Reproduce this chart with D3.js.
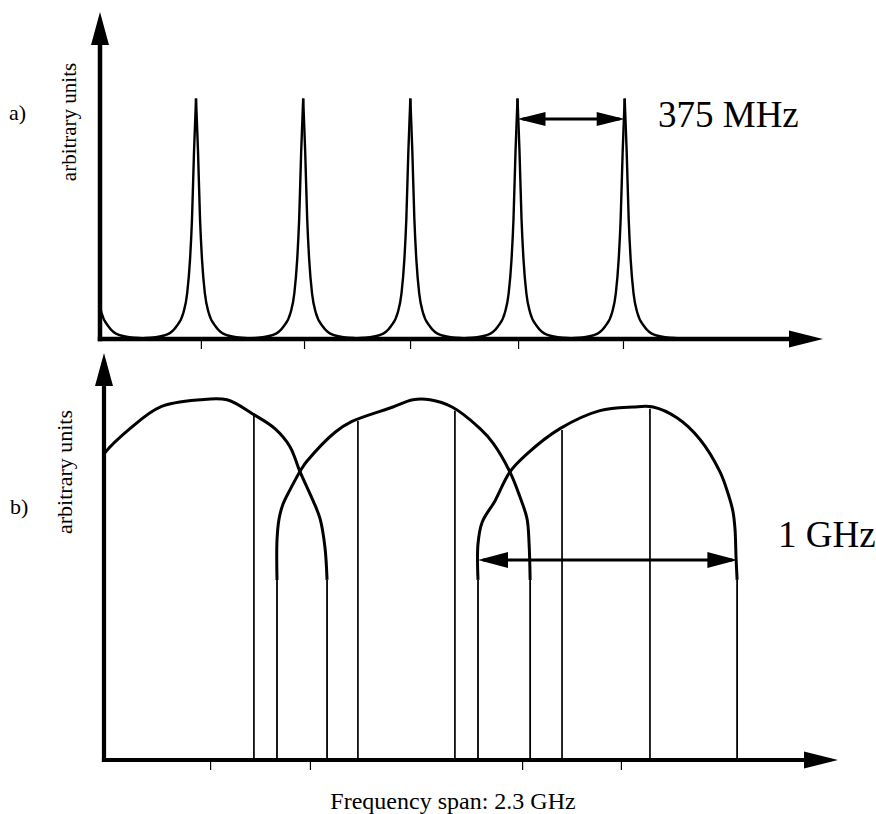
<!DOCTYPE html>
<html>
<head>
<meta charset="utf-8">
<script src="https://cdn.jsdelivr.net/npm/d3@7"></script>
<style>
  html, body { margin: 0; padding: 0; background: #fff; }
  svg { display: block; }
  text { font-family: "Liberation Serif", "DejaVu Serif", serif; fill: #000; }
</style>
</head>
<body>
<svg id="fig" width="876" height="814"></svg>
<script>
// ---------- panel a: resonance comb (frequency in MHz, amplitude in arbitrary units)
const peakCentersA = [-39, 336, 711, 1086, 1461, 1836];
// shape of a single resonance: [offset from centre in MHz, relative amplitude]
const peakProfile = [
  [-245, 0], [-158, 0.005], [-105, 0.017], [-70, 0.05], [-44, 0.11], [-31, 0.19],
  [-21, 0.33], [-14, 0.5], [-7, 0.78], [0, 1],
  [7, 0.78], [14, 0.5], [21, 0.33], [31, 0.19], [44, 0.11], [70, 0.05],
  [105, 0.017], [158, 0.005], [245, 0]
];
const ticksA = [353, 714, 1085, 1463, 1830];
const spacingA = { start: 1461, span: 375 };   // MHz

// ---------- panel b: overlapping pass bands
const domeCurves = [
  [[-40, 0.80], [0, 0.85], [100, 0.92], [216, 0.98], [370, 1.00], [474, 1.00], [575, 0.96],
   [659, 0.92], [717, 0.87], [756, 0.80], [806, 0.72], [833, 0.67], [852, 0.59], [860, 0.50]],
  [[667, 0.50], [667, 0.61], [675, 0.67], [690, 0.71], [717, 0.75], [763, 0.81], [783, 0.83],
   [891, 0.91], [956, 0.94], [1114, 0.98], [1191, 1.00], [1257, 1.00], [1342, 0.98], [1450, 0.92],
   [1500, 0.88], [1565, 0.80], [1604, 0.73], [1631, 0.67], [1639, 0.60], [1643, 0.50]],
  [[1442, 0.50], [1442, 0.60], [1458, 0.66], [1508, 0.72], [1565, 0.80], [1631, 0.85], [1758, 0.92],
   [1912, 0.97], [2040, 0.98], [2117, 0.98], [2209, 0.95], [2298, 0.89], [2375, 0.80], [2406, 0.74],
   [2425, 0.69], [2433, 0.64], [2437, 0.56], [2441, 0.50]]
];
// interior lines: [frequency MHz, height]
const modeLinesB = [[578, 0.963], [979, 0.941], [1353, 0.97], [1766, 0.916], [2105, 0.975]];
const ticksB = [409, 794, 1612, 1993];
const bandwidthB = { start: 1442, span: 1000 };   // MHz

const panelLabels = ["a)", "b)"];
const yTitle = "arbitrary units";
const xTitle = "Frequency span: 2.3 GHz";

// ---------- drawing
const svg = d3.select("#fig");

const xA = d3.scaleLinear().domain([0, 2530]).range([100, 823]);
const yA = d3.scaleLinear().domain([0, 1.36]).range([339, 12]);
const xB = d3.scaleLinear().domain([0, 2830]).range([104, 838]);
const yB = d3.scaleLinear().domain([0, 1.13]).range([760, 353]);

function arrowHead(g, tipX, tipY, dx, dy, len, hw) {
  const bx = tipX - dx * len, by = tipY - dy * len;
  const pts = [[tipX, tipY], [bx - dy * hw, by + dx * hw], [bx + dy * hw, by - dx * hw]];
  g.append("polygon").attr("points", pts.map(p => p.join(",")).join(" ")).attr("fill", "#000");
}

function drawAxes(g, x, y, xEnd, yEnd, ticks, w) {
  const x0 = x(0), y0 = y(0);
  // ticks below the frequency axis
  g.append("g")
    .attr("transform", `translate(0,${y0 + 2})`)
    .call(d3.axisBottom(x).tickValues(ticks).tickSize(8).tickFormat(""))
    .call(s => s.select(".domain").remove())
    .call(s => s.selectAll(".tick line").attr("stroke", "#000").attr("stroke-width", 1.2));
  g.append("line").attr("x1", x0).attr("y1", y0 + w / 2).attr("x2", x0).attr("y2", y(yEnd) + 20)
    .attr("stroke", "#000").attr("stroke-width", w);
  arrowHead(g, x0, y(yEnd), 0, -1, 33, 9);
  g.append("line").attr("x1", x0 - w / 2).attr("y1", y0).attr("x2", x(xEnd) - 20).attr("y2", y0)
    .attr("stroke", "#000").attr("stroke-width", w);
  arrowHead(g, x(xEnd), y0, 1, 0, 34, 8.5);
}

function doubleArrow(g, x1, x2, yy, len, hw) {
  g.append("line").attr("x1", x1 + 5).attr("x2", x2 - 5).attr("y1", yy).attr("y2", yy)
    .attr("stroke", "#000").attr("stroke-width", 3);
  arrowHead(g, x1, yy, -1, 0, len, hw);
  arrowHead(g, x2, yy, 1, 0, len, hw);
}

// ----- panel a
const gA = svg.append("g");
svg.append("clipPath").attr("id", "clipA")
  .append("rect").attr("x", xA(0)).attr("y", 0).attr("width", 800).attr("height", 360);

const halfLine = d3.line().x(d => d[0]).y(d => d[1]).curve(d3.curveMonotoneX);
const peaksG = gA.append("g").attr("clip-path", "url(#clipA)");
peakCentersA.forEach(c => {
  const pts = peakProfile.map(([o, v]) => [xA(c + o), yA(v)]);
  const mid = peakProfile.findIndex(p => p[0] === 0);
  [pts.slice(0, mid + 1), pts.slice(mid)].forEach(part => {
    peaksG.append("path").attr("d", halfLine(part))
      .attr("fill", "none").attr("stroke", "#000").attr("stroke-width", 2.4)
      .attr("stroke-linejoin", "round");
  });
});
drawAxes(gA, xA, yA, 2530, 1.36, ticksA, 4.5);

doubleArrow(gA, xA(spacingA.start), xA(spacingA.start + spacingA.span), yA(0.915), 28, 7);
gA.append("text").attr("x", 658).attr("y", 127).attr("font-size", 37)
  .text(`${spacingA.span} MHz`);

gA.append("text").attr("x", 9).attr("y", 120).attr("font-size", 22).text(panelLabels[0]);
gA.append("text").attr("transform", "translate(76,122) rotate(-90)")
  .attr("text-anchor", "middle").attr("font-size", 21).text(yTitle);

// ----- panel b
const gB = svg.append("g");
svg.append("clipPath").attr("id", "clipB")
  .append("rect").attr("x", xB(0)).attr("y", 360).attr("width", 800).attr("height", 420);

const domeLine = d3.line().x(d => xB(d[0])).y(d => yB(d[1])).curve(d3.curveCatmullRom.alpha(0.5));
const domesG = gB.append("g").attr("clip-path", "url(#clipB)");
domeCurves.forEach(curve => {
  domesG.append("path").attr("d", domeLine(curve))
    .attr("fill", "none").attr("stroke", "#000").attr("stroke-width", 3)
    .attr("stroke-linejoin", "round");
  // vertical band edges down to the frequency axis
  [curve[0], curve[curve.length - 1]].forEach(([f, v]) => {
    domesG.append("line").attr("x1", xB(f)).attr("x2", xB(f)).attr("y1", yB(v)).attr("y2", yB(0))
      .attr("stroke", "#000").attr("stroke-width", 1.8);
  });
});
modeLinesB.forEach(([f, v]) => {
  domesG.append("line").attr("x1", xB(f)).attr("x2", xB(f)).attr("y1", yB(v)).attr("y2", yB(0))
    .attr("stroke", "#000").attr("stroke-width", 1.7);
});
drawAxes(gB, xB, yB, 2830, 1.13, ticksB, 4.2);

doubleArrow(gB, xB(bandwidthB.start), xB(bandwidthB.start + bandwidthB.span), yB(0.555), 30, 8);
gB.append("text").attr("x", 778).attr("y", 547).attr("font-size", 37)
  .text(`${bandwidthB.span / 1000} GHz`);

gB.append("text").attr("x", 10).attr("y", 514).attr("font-size", 22).text(panelLabels[1]);
gB.append("text").attr("transform", "translate(72,472) rotate(-90)")
  .attr("text-anchor", "middle").attr("font-size", 22).text(yTitle);

svg.append("text").attr("x", 453).attr("y", 809).attr("text-anchor", "middle")
  .attr("font-size", 24).text(xTitle);
</script>
</body>
</html>
